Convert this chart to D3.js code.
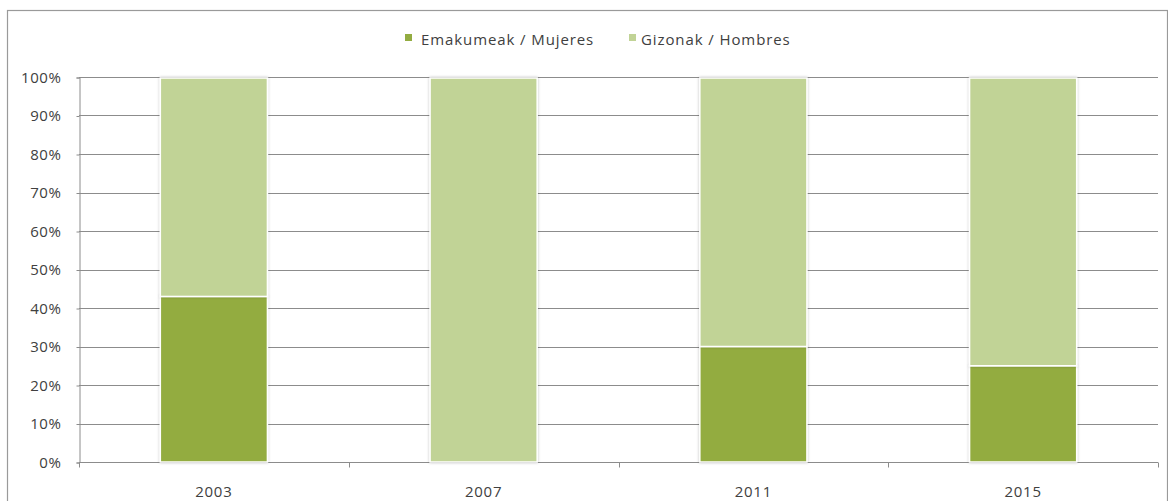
<!DOCTYPE html>
<html><head><meta charset="utf-8">
<script src="https://cdn.jsdelivr.net/npm/d3@7"></script>
<style>
body{margin:0;background:#fff;}
text{font-family:"Open Sans",sans-serif;fill:#404040;}
</style></head><body>
<svg id="c" width="1168" height="501"></svg>
<script>
const categories = ["2003","2007","2011","2015"];
const women = [43, 0, 30, 25];
const men = [57, 100, 70, 75];
const seriesNames = ["Emakumeak / Mujeres","Gizonak / Hombres"];
const yTicks = [0,10,20,30,40,50,60,70,80,90,100];
const colors = ["#93ac41","#c1d396"];

const svg = d3.select("#c");
svg.append("rect").attr("x",7.5).attr("y",10.5).attr("width",1160).attr("height",495)
  .attr("fill","none").attr("stroke","#9a9a9a").attr("stroke-width",1.2);

const m = {l:79, r:1158, t:77, b:462};
const x = d3.scaleBand().domain(categories).range([m.l,m.r]).paddingInner(0.603).paddingOuter(0.3015);
const y = d3.scaleLinear().domain([0,100]).range([m.b,m.t]);

svg.append("g").selectAll("line").data(yTicks.filter(d=>d>0)).join("line")
  .attr("x1",m.l).attr("x2",m.r).attr("y1",d=>Math.round(y(d))+0.5).attr("y2",d=>Math.round(y(d))+0.5)
  .attr("stroke","#8c8c8c").attr("stroke-width",1);

const ya = svg.append("g").attr("transform",`translate(${m.l+0.5},0.5)`)
  .call(d3.axisLeft(y).tickValues(yTicks).tickFormat(d=>d+"%").tickSize(3).tickPadding(15));
ya.select(".domain").attr("stroke","#8c8c8c");
ya.selectAll(".tick line").attr("stroke","#8c8c8c");
ya.selectAll(".tick text").attr("font-size","15px").attr("fill","#404040").attr("font-family","Open Sans")
  .attr("letter-spacing","0.6px");

const xb = d3.scaleLinear().domain([0,categories.length]).range([m.l,m.r]);
const xa = svg.append("g").attr("transform",`translate(0,${Math.round(m.b)+0.5})`);
xa.append("line").attr("x1",m.l).attr("x2",m.r).attr("stroke","#8c8c8c");
xa.selectAll(".tk").data(d3.range(categories.length+1)).join("line")
  .attr("x1",d=>Math.round(xb(d))+0.5).attr("x2",d=>Math.round(xb(d))+0.5).attr("y1",0).attr("y2",5).attr("stroke","#8c8c8c");
xa.selectAll("text").data(categories).join("text")
  .attr("x",d=>x(d)+x.bandwidth()/2).attr("y",34).attr("text-anchor","middle")
  .attr("font-size","15px").attr("letter-spacing","0.7px").text(d=>d);

const defs = svg.append("defs");
const f = defs.append("filter").attr("id","sh").attr("x","-10%").attr("y","-10%").attr("width","120%").attr("height","120%");
f.append("feGaussianBlur").attr("in","SourceAlpha").attr("stdDeviation",1.5).attr("result","b");
f.append("feComponentTransfer").attr("in","b").attr("result","o2").append("feFuncA").attr("type","linear").attr("slope",0.25);
const mg = f.append("feMerge"); mg.append("feMergeNode").attr("in","o2"); mg.append("feMergeNode").attr("in","SourceGraphic");

const stack = d3.stack().keys([0,1]).value((d,k)=>k===0?d.w:d.m);
const data = categories.map((c,i)=>({c, w:women[i], m:men[i]}));
const layers = stack(data);
layers.forEach((L,k)=>{
  svg.append("g").selectAll("rect").data(L.filter(d=>d[1]>d[0])).join("rect")
    .attr("x",d=>x(d.data.c)).attr("width",x.bandwidth())
    .attr("y",d=>y(d[1])+(k===1?1:0)).attr("height",d=>y(d[0])-y(d[1])-(k===1?1:0))
    .attr("fill",colors[k]).attr("stroke","#fff").attr("stroke-width",1.5).attr("filter","url(#sh)");
});

const lg = svg.append("g");
const sqx = [405, 629], tx = [421, 641];
seriesNames.forEach((n,i)=>{
  lg.append("rect").attr("x",sqx[i]).attr("y",34).attr("width",7).attr("height",7).attr("fill",colors[i]);
  lg.append("text").attr("x",tx[i]).attr("y",45).attr("font-size","15px").attr("letter-spacing","0.9px").text(n);
});
</script></body></html>
